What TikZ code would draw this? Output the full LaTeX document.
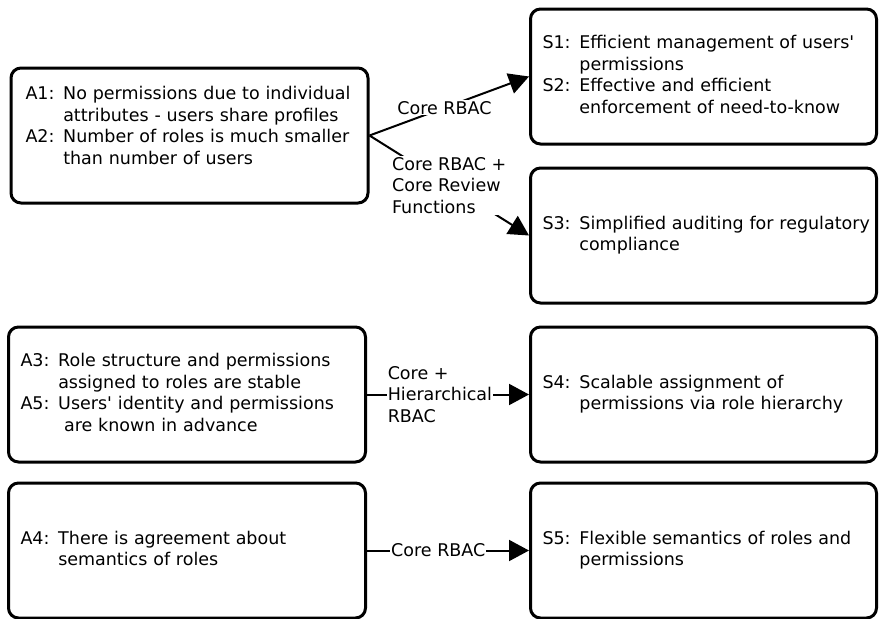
\documentclass[tikz,border=0pt]{standalone}
\usepackage{fontspec}
\setmainfont{DejaVu Sans}
\usetikzlibrary{positioning, arrows.meta}

\begin{document}
\begin{tikzpicture}[x=1pt, y=-1pt,
		font=\fontsize{17.5}{21.5}\selectfont,
		box/.style={rectangle, draw, line width=3pt, rounded corners=10pt, minimum height=135pt, align=left, inner xsep=12pt},
		lbox/.style={box, minimum width=357pt, text width=333pt},
		rbox/.style={box, minimum width=346pt, text width=322pt},
		link/.style={-{Triangle[length=20pt, width=21pt]}, line width=2pt},
		tag/.style={fill=white, inner sep=1pt, align=left}]
			\useasboundingbox (0,0) rectangle (879,619);
			
			\node[lbox] (A35) at (187, 394.5) {\begin{tabular}{@{}l@{ }l@{}}A3:& Role structure and permissions\\ & assigned to roles are stable\\ A5:& Users\textquotesingle{} identity and permissions\\ & \ are known in advance\end{tabular}};
			\node[lbox, above=121pt of A35, xshift=2.5pt, inner xsep=14pt, text width=328pt] (A12) {\begin{tabular}{@{}l@{ }l@{}}A1:& No permissions due to individual\\ & attributes - users share profiles\\ A2:& Number of roles is much smaller\\ & than number of users\\[16pt]\end{tabular}};
			\node[lbox, below=18pt of A35] (A4) {\begin{tabular}{@{}l@{ }l@{}}A4:& There is agreement about\\ & semantics of roles\end{tabular}};
			
			\node[rbox, right=162pt of A35] (S4) {\begin{tabular}{@{}l@{ }l@{}}S4:& Scalable assignment of\\ & permissions via role hierarchy\end{tabular}};
			\node[rbox, right=162pt of A4] (S5) {\begin{tabular}{@{}l@{ }l@{}}S5:& Flexible semantics of roles and\\ & permissions\end{tabular}};
			\node[rbox, above=21pt of S4] (S3) {\begin{tabular}{@{}l@{ }l@{}}S3:& Simplified auditing for regulatory\\ & compliance\end{tabular}};
			\node[rbox, above=21pt of S3] (S12) {\begin{tabular}{@{}l@{ }l@{}}S1:& Efficient management of users\textquotesingle\\ & permissions\\ S2:& Effective and efficient\\ & enforcement of need-to-know\end{tabular}};
			
			\draw[link] (A12.east) -- node[tag, pos=0.47] (L1) {Core RBAC} (S12.west);
			\draw[link] (A12.east) -- node[tag] (L2) {Core RBAC +\\Core Review\\Functions} (S3.west);
			\draw[link] (A35.east) -- node[tag, pos=0.45] (L3) {Core +\\Hierarchical\\RBAC} (S4.west);
			\draw[link] (A4.east) -- node[tag, pos=0.44] (L4) {Core RBAC} (S5.west);
		\end{tikzpicture}
\end{document}
